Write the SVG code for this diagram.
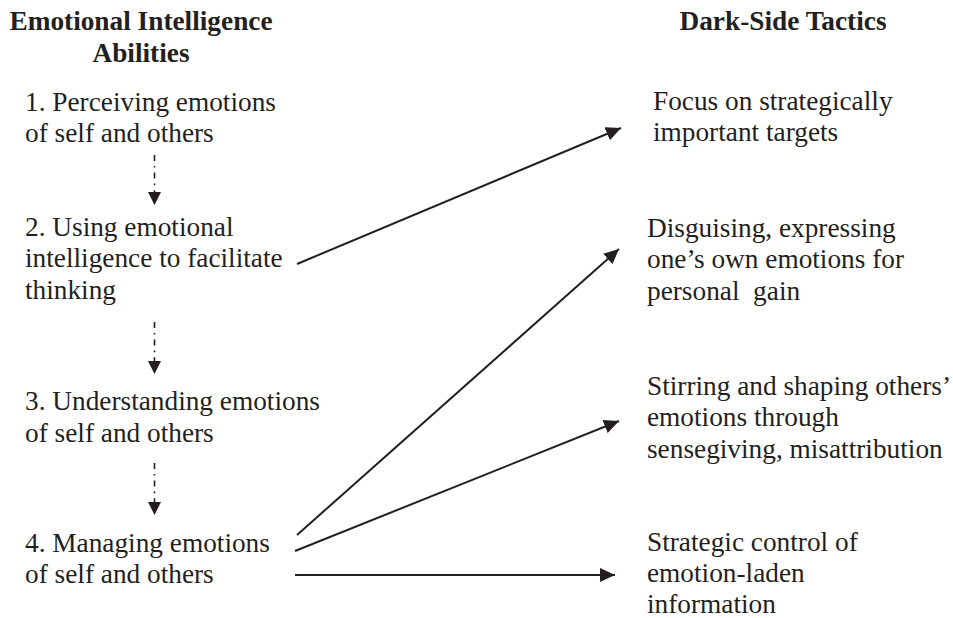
<svg xmlns="http://www.w3.org/2000/svg" width="953" height="618" viewBox="0 0 953 618">
  <style>
    text { font-family: "Liberation Serif", "Times New Roman", serif; font-size: 27.3px; fill: #231f20; }
    .head { font-weight: bold; text-anchor: middle; }
    .solid { stroke: #231f20; stroke-width: 2; fill: none; }
    .dashed { stroke: #231f20; stroke-width: 1.6; fill: none; stroke-dasharray: 6 5 1.6 5; }
  </style>
  <defs>
    <marker id="arrow" markerUnits="userSpaceOnUse" markerWidth="16" markerHeight="16" refX="15" refY="7" orient="auto">
      <path d="M0,0 L15,7 L0,14 Z" fill="#231f20"/>
    </marker>
    <marker id="arrowDown" markerUnits="userSpaceOnUse" markerWidth="14" markerHeight="14" refX="13" refY="6.5" orient="auto">
      <path d="M0,0 L13,6.5 L0,13 Z" fill="#231f20"/>
    </marker>
  </defs>

  <rect width="953" height="618" fill="#ffffff"/>

  <!-- column headings -->
  <g id="heading-abilities">
    <text class="head" x="141" y="30">Emotional Intelligence</text>
    <text class="head" x="141" y="62">Abilities</text>
  </g>
  <g id="heading-tactics">
    <text class="head" x="783" y="30">Dark-Side Tactics</text>
  </g>

  <!-- abilities -->
  <g id="ability-1">
    <text x="25" y="111">1. Perceiving emotions</text>
    <text x="25" y="142">of self and others</text>
  </g>
  <g id="ability-2">
    <text x="25" y="236">2. Using emotional</text>
    <text x="25" y="267">intelligence to facilitate</text>
    <text x="25" y="299">thinking</text>
  </g>
  <g id="ability-3">
    <text x="25" y="410">3. Understanding emotions</text>
    <text x="25" y="442">of self and others</text>
  </g>
  <g id="ability-4">
    <text x="25" y="552">4. Managing emotions</text>
    <text x="25" y="583">of self and others</text>
  </g>

  <!-- tactics -->
  <g id="tactic-targets">
    <text x="653" y="110">Focus on strategically</text>
    <text x="653" y="141">important targets</text>
  </g>
  <g id="tactic-disguising">
    <text x="647" y="237">Disguising, expressing</text>
    <text x="647" y="268">one’s own emotions for</text>
    <text x="647" y="300" xml:space="preserve">personal  gain</text>
  </g>
  <g id="tactic-stirring">
    <text x="647" y="395">Stirring and shaping others’</text>
    <text x="647" y="426">emotions through</text>
    <text x="647" y="458">sensegiving, misattribution</text>
  </g>
  <g id="tactic-control">
    <text x="647" y="551">Strategic control of</text>
    <text x="647" y="582">emotion-laden</text>
    <text x="647" y="613">information</text>
  </g>

  <!-- connectors -->
  <g id="connectors">
    <line class="dashed" x1="154.5" y1="155" x2="154.5" y2="205" marker-end="url(#arrowDown)"/>
    <line class="dashed" x1="154.5" y1="322" x2="154.5" y2="374" marker-end="url(#arrowDown)"/>
    <line class="dashed" x1="154.5" y1="463" x2="154.5" y2="515" marker-end="url(#arrowDown)"/>
    <line class="solid" x1="297" y1="264" x2="621" y2="128" marker-end="url(#arrow)"/>
    <line class="solid" x1="297" y1="535" x2="619" y2="249" marker-end="url(#arrow)"/>
    <line class="solid" x1="295" y1="551" x2="619" y2="421" marker-end="url(#arrow)"/>
    <line class="solid" x1="295" y1="575" x2="615" y2="575" marker-end="url(#arrow)"/>
  </g>
</svg>
